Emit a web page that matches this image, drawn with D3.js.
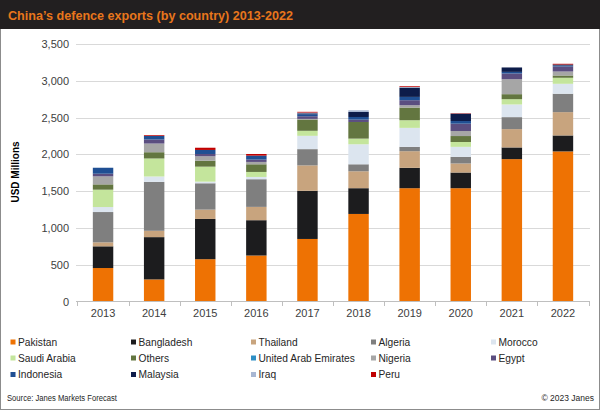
<!DOCTYPE html>
<html><head><meta charset="utf-8">
<script src="https://cdn.jsdelivr.net/npm/d3@7/dist/d3.min.js"></script>
<style>
html,body{margin:0;padding:0;background:#fff;}
svg{display:block;font-family:"Liberation Sans",Arial,sans-serif;}
</style></head>
<body>
<svg id="chart" width="600" height="410"></svg>
<script>
const years = ["2013","2014","2015","2016","2017","2018","2019","2020","2021","2022"];
const seriesNames = ["Pakistan","Bangladesh","Thailand","Algeria","Morocco","Saudi Arabia","Others","United Arab Emirates","Nigeria","Egypt","Indonesia","Malaysia","Iraq","Peru"];
const pakistan   = [455, 300, 575, 625, 850, 1190, 1540, 1540, 1935, 2040];
const bangladesh = [295, 575, 547, 480, 655, 350, 277, 213, 159, 217];
const thailand   = [54, 86, 127, 181, 345, 230, 226, 123, 249, 317];
const algeria    = [412, 665, 358, 376, 221, 95, 59, 90, 163, 250];
const morocco    = [68, 73, 22, 31, 181, 272, 258, 136, 172, 135];
const saudi      = [236, 245, 204, 68, 68, 77, 104, 66, 72, 82];
const others     = [72, 85, 81, 104, 154, 226, 172, 81, 68, 31];
const uae        = [0, 0, 0, 0, 0, 0, 0, 0, 0, 0];
const nigeria    = [109, 118, 60, 32, 8, 0, 32, 68, 204, 54];
const egypt      = [36, 55, 31, 32, 36, 32, 68, 100, 77, 68];
const indonesia  = [81, 49, 55, 54, 28, 36, 45, 36, 22, 15];
const malaysia   = [0, 0, 0, 0, 12, 68, 127, 100, 60, 12];
const iraq       = [0, 0, 0, 0, 10, 23, 8, 0, 0, 0];
const peru       = [0, 10, 30, 22, 10, 0, 10, 5, 0, 10];
const yTicks = [0, 500, 1000, 1500, 2000, 2500, 3000, 3500];

const seriesValues = [pakistan, bangladesh, thailand, algeria, morocco, saudi, others, uae, nigeria, egypt, indonesia, malaysia, iraq, peru];
const colors = ["#EE7203","#1C1C1E","#C8A47E","#7F7F7F","#DCE5EF","#C4E59C","#637640","#2E8FC5","#A6A6A6","#5B4E80","#1F4F93","#0D1C4A","#A8B7D3","#C00000"];

const rows = years.map((y, i) => {
  const o = {year: y};
  seriesNames.forEach((s, k) => o[s] = seriesValues[k][i]);
  return o;
});

const svg = d3.select("#chart");
const W = 600, H = 410;

// border
svg.append("rect").attr("x",0.5).attr("y",0.5).attr("width",W-1).attr("height",H-1)
  .attr("fill","#fff").attr("stroke","#8c8c8c").attr("stroke-width",1);
// title bar
svg.append("rect").attr("x",0).attr("y",0).attr("width",W).attr("height",29).attr("fill","#221F20");
svg.append("text").attr("x",8).attr("y",20).attr("fill","#E8761C")
  .attr("font-size","13px").attr("font-weight","bold")
  .attr("textLength",285).attr("lengthAdjust","spacingAndGlyphs")
  .text("China’s defence exports (by country) 2013-2022");

const x = d3.scaleBand().domain(years).range([77.5, 588.5]).paddingInner(0.6).paddingOuter(0.3);
const y = d3.scaleLinear().domain([0, 3500]).range([301.5, 44]);

// gridlines
svg.append("g").selectAll("line").data(yTicks.filter(t => t > 0)).join("line")
  .attr("x1", 76).attr("x2", 590)
  .attr("y1", d => Math.round(y(d)) + 0.5).attr("y2", d => Math.round(y(d)) + 0.5)
  .attr("stroke", "#D9D9D9").attr("stroke-width", 1);

// y axis labels
const yAxis = d3.axisLeft(y).tickValues(yTicks).tickFormat(d3.format(",")).tickSize(0).tickPadding(0);
const yg = svg.append("g").attr("transform","translate(69,0)").call(yAxis);
yg.select(".domain").remove();
yg.selectAll("text").attr("font-size","11px").attr("fill","#404040").attr("font-family","Liberation Sans, Arial, sans-serif");

// stacked bars
const stack = d3.stack().keys(seriesNames)(rows);
svg.append("g").selectAll("g").data(stack).join("g")
  .attr("fill", (d, i) => colors[i])
  .selectAll("rect").data(d => d).join("rect")
  .attr("x", d => x(d.data.year))
  .attr("width", x.bandwidth())
  .attr("y", d => y(d[1]))
  .attr("height", d => Math.max(0, y(d[0]) - y(d[1])));

// x axis line and ticks between categories
const ax = svg.append("g");
ax.append("line").attr("x1",76).attr("x2",590).attr("y1",301.5).attr("y2",301.5).attr("stroke","#BFBFBF");
const step = x.step();
const bounds = years.map((yr) => x(yr) - (step - x.bandwidth())/2).concat([x(years[years.length-1]) + x.bandwidth() + (step - x.bandwidth())/2]);
ax.selectAll("line.t").data(bounds).join("line").attr("class","t")
  .attr("x1", d => Math.round(d)+0.5).attr("x2", d => Math.round(d)+0.5)
  .attr("y1", 301.5).attr("y2", 306).attr("stroke","#BFBFBF");
const xAxis = d3.axisBottom(x).tickSize(0).tickPadding(0);
const xg = svg.append("g").attr("transform","translate(0,306)").call(xAxis);
xg.select(".domain").remove();
xg.selectAll("text").attr("font-size","11px").attr("fill","#404040").attr("dy","0.71em").attr("y",3)
  .attr("font-family","Liberation Sans, Arial, sans-serif");

// y axis title
svg.append("text").attr("transform","translate(19,172) rotate(-90)").attr("text-anchor","middle")
  .attr("font-size","10px").attr("font-weight","bold").attr("fill","#000").text("USD Millions");

// legend
const colX = [10.5, 131, 251, 371, 491];
const rowY = [342, 358, 374.5];
const lg = svg.append("g");
seriesNames.forEach((s, i) => {
  const c = i % 5, r = Math.floor(i / 5);
  const g = lg.append("g").attr("transform", `translate(${colX[c]},${rowY[r]})`);
  g.append("rect").attr("x",0).attr("y",-2.5).attr("width",5).attr("height",5).attr("fill",colors[i]);
  g.append("text").attr("x",7.5).attr("y",0).attr("dy","0.35em").attr("font-size","10.2px").attr("fill","#262626").text(s);
});

// footer
svg.append("text").attr("x",7).attr("y",401).attr("font-size","8.5px").attr("fill","#262626")
  .attr("textLength",110).attr("lengthAdjust","spacingAndGlyphs").text("Source: Janes Markets Forecast");
svg.append("text").attr("x",594).attr("y",401).attr("text-anchor","end").attr("font-size","8.5px").attr("fill","#262626")
  .text("© 2023 Janes");
</script>
</body></html>
